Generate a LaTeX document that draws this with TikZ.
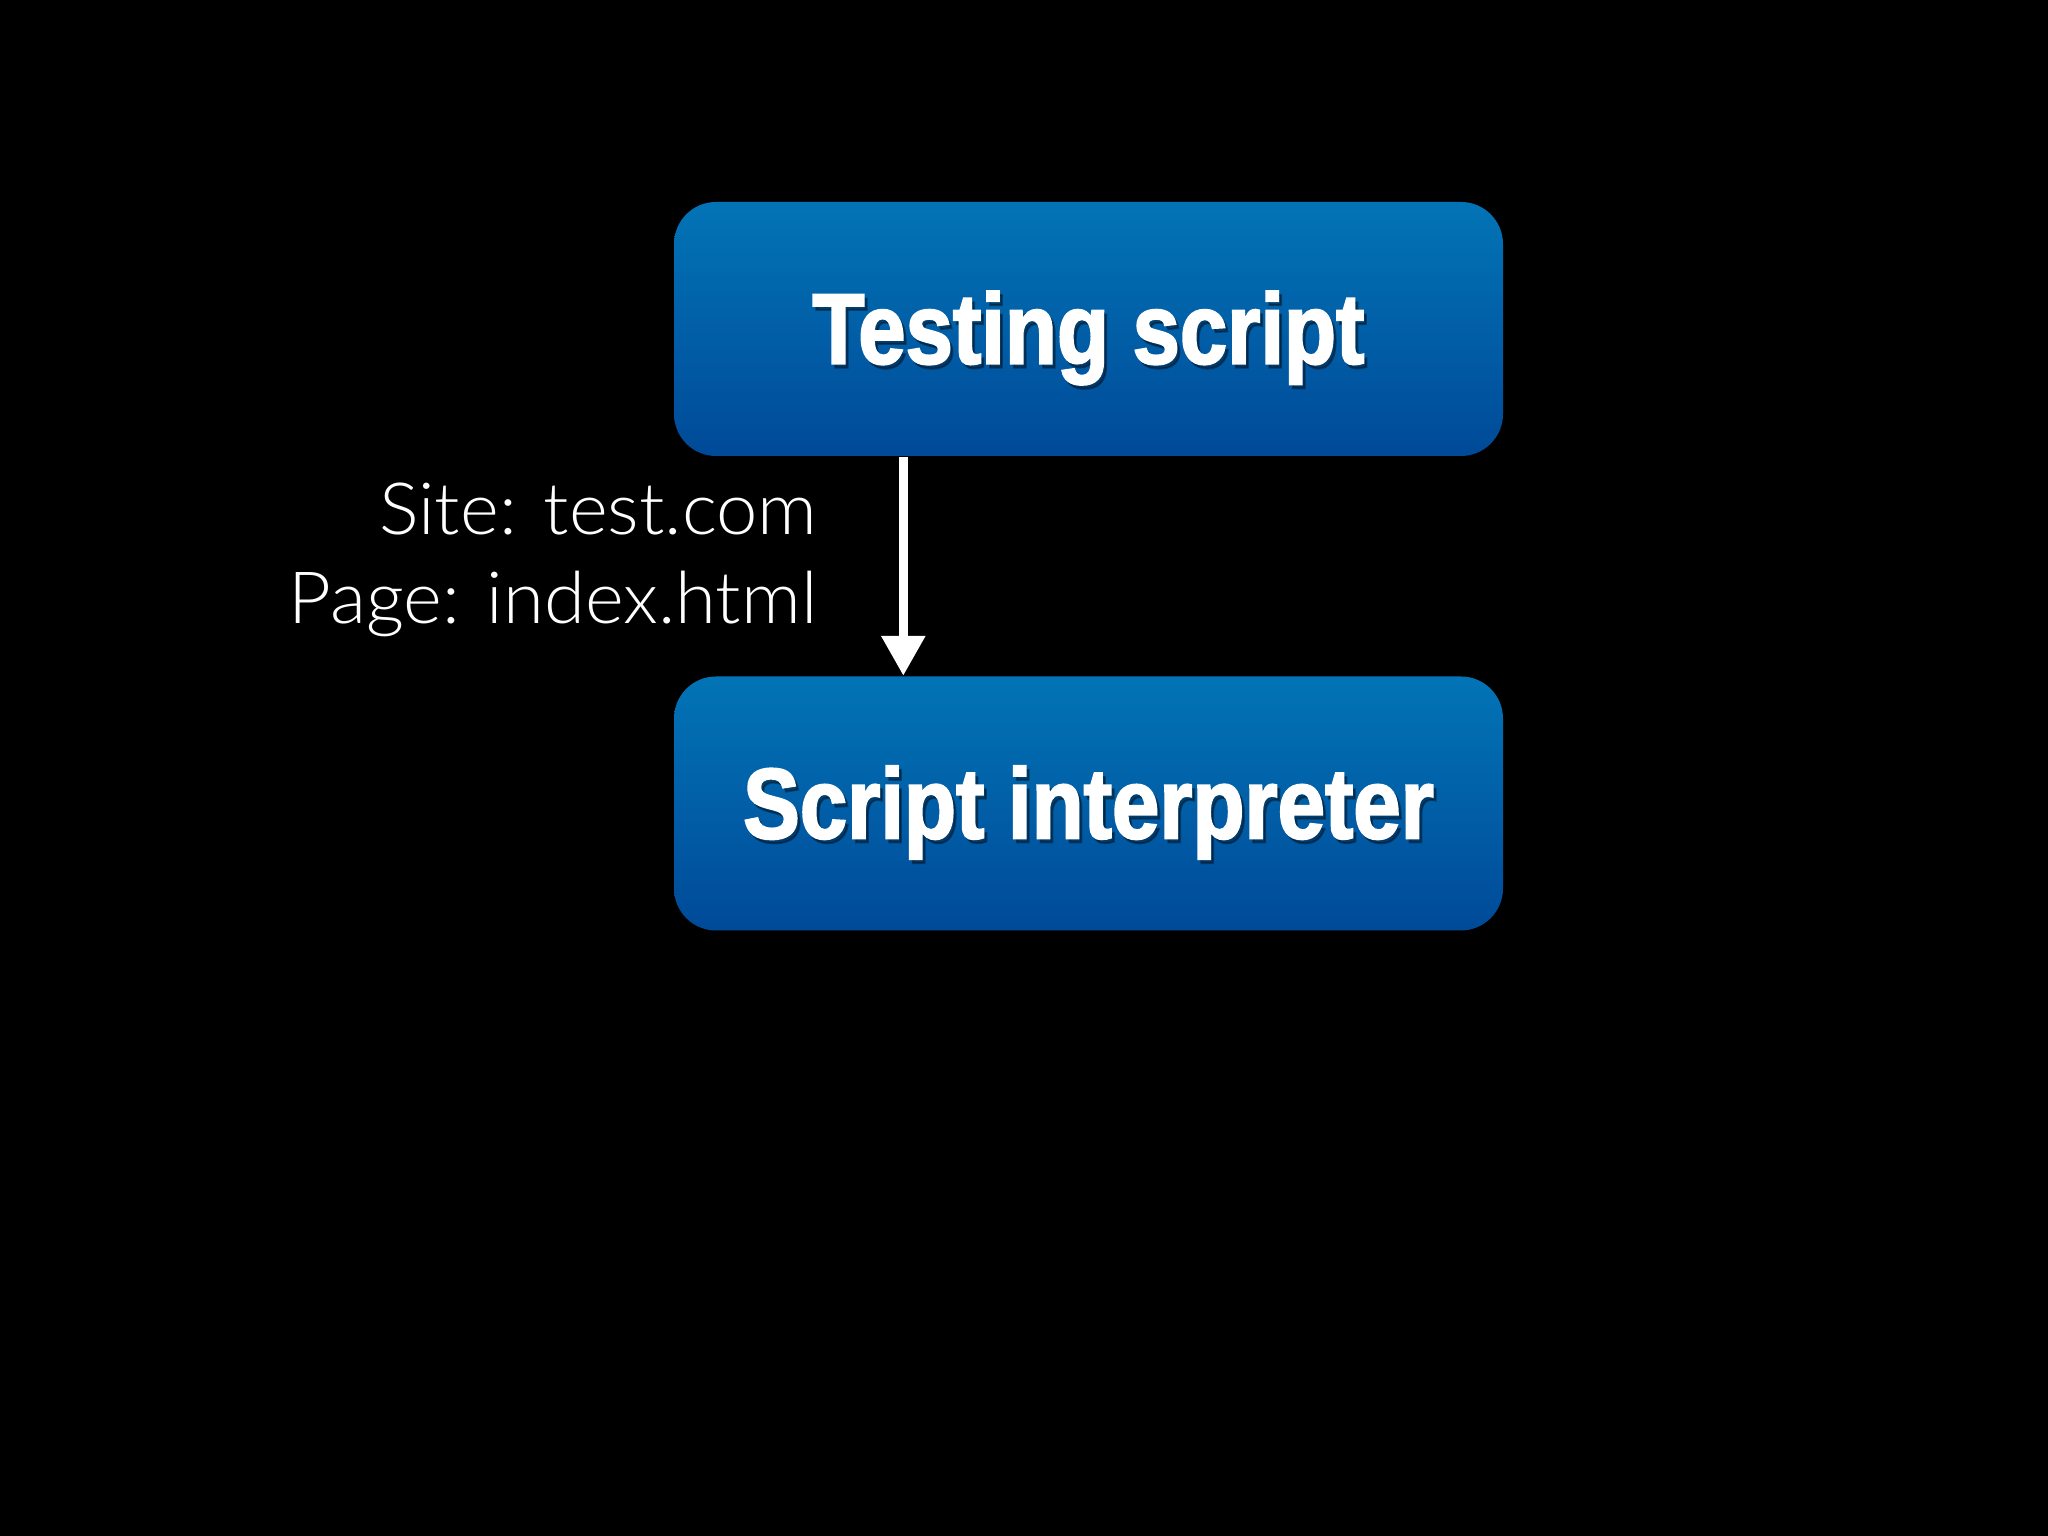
\documentclass[tikz,border=0pt]{standalone}
\usepackage{fontspec}
\usetikzlibrary{calc}
\usetikzlibrary{arrows.meta,positioning}
\newfontfamily\boxfont[FakeStretch=0.85,FakeBold=2]{Liberation Sans}
\newfontfamily\lblfont[FakeStretch=1.03]{Lato Light}
\definecolor{myblue}{RGB}{2,116,182}
\definecolor{mydarkblue}{RGB}{0,74,152}

\begin{document}
\begin{tikzpicture}
    [stage/.style={rounded corners=0.42cm,top color=myblue,bottom color=mydarkblue,
        minimum width=8.29cm,minimum height=2.54cm,inner sep=0pt},
     stagetext/.style={text=white,font=\boxfont\bfseries\fontsize{28.5}{30}\selectfont},
     shade/.style={text=black,opacity=0.35,font=\boxfont\bfseries\fontsize{28.5}{30}\selectfont},
     lbl/.style={text=white,font=\lblfont\fontsize{20.5}{24}\selectfont,inner sep=0pt},
     flow/.style={white,line width=2.6pt,-{Triangle[width=0.42cm,length=0.4cm]}}]

    % background, same size as the slide
    \fill[black] (0,0) rectangle (20.48,15.36);

    \node[stage] (tester) at (10.885,12.07) {};
    \node[shade] (testershadow) at ([xshift=0.03cm,yshift=-0.13cm]tester.center) {Testing script};
    \node[stagetext] (testertext) at ([yshift=-0.09cm]tester.center) {Testing script};

    \node[stage] (interp) at (10.885,7.325) {};
    \node[shade] (interpshadow) at ([xshift=0.03cm,yshift=-0.13cm]interp.center) {Script interpreter};
    \node[stagetext] (interptext) at ([yshift=-0.09cm]interp.center) {Script interpreter};

    \coordinate (flowx) at ($(tester.south west)!0.277!(tester.south east)$);
    \draw[flow] (flowx) -- (interp.north -| flowx);

    \node[lbl,anchor=base east] (site) at (8.18,10.01) {Site: test.com};
    \node[lbl,anchor=base east] (page) at ([yshift=-0.89cm]site.base east) {Page: index.html};

    \useasboundingbox (0,0) rectangle (20.48,15.36);
\end{tikzpicture}
\end{document}
